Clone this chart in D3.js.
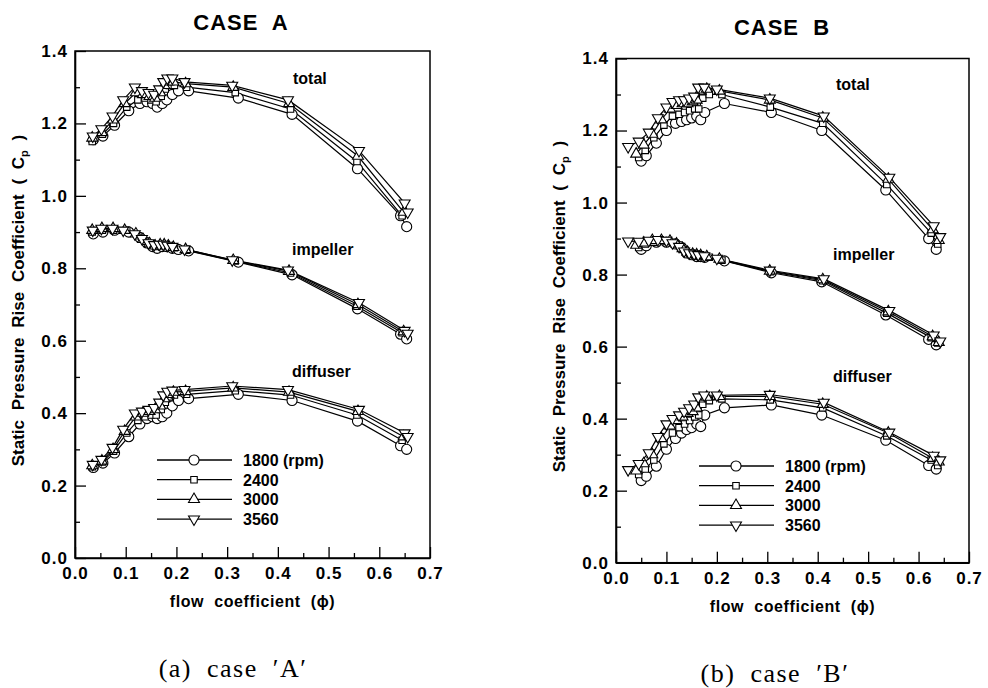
<!DOCTYPE html>
<html>
<head>
<meta charset="utf-8">
<script src="https://cdn.jsdelivr.net/npm/d3@7"></script>
<style>
  html, body { margin: 0; padding: 0; background: #fff; }
  svg text { font-family: "Liberation Sans", Arial, Helvetica, sans-serif; fill: #000; }
</style>
</head>
<body>
<svg id="chart" width="988" height="688"></svg>
<script>
// Speeds shown in the legend
const rpmLabels = ["1800 (rpm)", "2400", "3000", "3560"];
const componentLabels = ["total", "impeller", "diffuser"];
const xTicks = [0.0, 0.1, 0.2, 0.3, 0.4, 0.5, 0.6, 0.7];
const yTicks = [0.0, 0.2, 0.4, 0.6, 0.8, 1.0, 1.2, 1.4];

// ---- Case A : flow coefficient and pressure rise coefficients per speed ----
const aPhi1800 = [0.036,0.055,0.078,0.106,0.128,0.142,0.153,0.162,0.172,0.181,0.192,0.204,0.224,0.322,0.428,0.557,0.642,0.654];
const aTot1800 = [1.155,1.165,1.195,1.235,1.255,1.260,1.255,1.245,1.255,1.265,1.280,1.290,1.290,1.270,1.225,1.075,0.945,0.915];
const aImp1800 = [0.895,0.900,0.905,0.900,0.885,0.870,0.860,0.855,0.860,0.860,0.855,0.852,0.848,0.817,0.782,0.688,0.618,0.605];
const aDif1800 = [0.250,0.262,0.290,0.335,0.370,0.385,0.390,0.385,0.390,0.400,0.420,0.435,0.440,0.452,0.435,0.378,0.310,0.300];

const aPhi2400 = [0.034,0.054,0.076,0.102,0.124,0.138,0.150,0.160,0.170,0.178,0.186,0.196,0.220,0.316,0.425,0.556,0.645];
const aTot2400 = [1.150,1.170,1.200,1.245,1.265,1.270,1.265,1.260,1.275,1.295,1.305,1.305,1.300,1.285,1.240,1.095,0.945];
const aImp2400 = [0.900,0.905,0.905,0.905,0.890,0.875,0.865,0.860,0.862,0.865,0.860,0.857,0.850,0.820,0.787,0.695,0.622];
const aDif2400 = [0.252,0.265,0.295,0.345,0.380,0.390,0.395,0.395,0.410,0.430,0.445,0.450,0.452,0.462,0.450,0.395,0.325];

const aPhi3000 = [0.034,0.053,0.075,0.098,0.120,0.134,0.147,0.158,0.168,0.176,0.184,0.194,0.218,0.312,0.422,0.558,0.648];
const aTot3000 = [1.160,1.175,1.210,1.255,1.285,1.280,1.275,1.270,1.285,1.305,1.315,1.315,1.310,1.300,1.255,1.110,0.955];
const aImp3000 = [0.905,0.910,0.910,0.905,0.895,0.880,0.868,0.862,0.865,0.865,0.862,0.858,0.852,0.822,0.792,0.700,0.625];
const aDif3000 = [0.255,0.268,0.300,0.350,0.390,0.400,0.405,0.410,0.420,0.440,0.452,0.458,0.460,0.470,0.458,0.405,0.335];

const aPhi3560 = [0.035,0.052,0.074,0.095,0.118,0.132,0.145,0.156,0.166,0.174,0.182,0.192,0.216,0.310,0.420,0.560,0.650,0.656];
const aTot3560 = [1.165,1.185,1.220,1.265,1.300,1.290,1.285,1.280,1.295,1.315,1.325,1.325,1.315,1.305,1.265,1.125,0.980,0.955];
const aImp3560 = [0.905,0.910,0.910,0.905,0.895,0.882,0.870,0.865,0.866,0.866,0.863,0.860,0.853,0.823,0.795,0.705,0.628,0.620];
const aDif3560 = [0.258,0.272,0.305,0.355,0.400,0.405,0.410,0.415,0.430,0.450,0.460,0.463,0.465,0.475,0.465,0.410,0.345,0.335];

// ---- Case B ----
const bPhi1800 = [0.050,0.060,0.080,0.100,0.118,0.130,0.140,0.150,0.160,0.168,0.176,0.215,0.308,0.408,0.535,0.620,0.635];
const bTot1800 = [1.115,1.130,1.165,1.200,1.220,1.225,1.230,1.235,1.240,1.230,1.250,1.275,1.250,1.200,1.035,0.900,0.870];
const bImp1800 = [0.870,0.880,0.890,0.890,0.885,0.875,0.860,0.855,0.850,0.850,0.848,0.838,0.805,0.780,0.688,0.620,0.605];
const bDif1800 = [0.228,0.240,0.268,0.315,0.345,0.360,0.370,0.375,0.385,0.378,0.410,0.430,0.438,0.410,0.340,0.270,0.260];

const bPhi2400 = [0.045,0.058,0.075,0.095,0.112,0.125,0.136,0.146,0.156,0.164,0.172,0.185,0.210,0.306,0.410,0.537,0.625,0.638];
const bTot2400 = [1.125,1.145,1.180,1.215,1.240,1.245,1.250,1.255,1.260,1.260,1.290,1.300,1.300,1.265,1.220,1.050,0.915,0.885];
const bImp2400 = [0.875,0.885,0.890,0.892,0.890,0.882,0.868,0.860,0.855,0.852,0.850,0.848,0.840,0.808,0.783,0.693,0.625,0.610];
const bDif2400 = [0.245,0.260,0.285,0.330,0.360,0.375,0.385,0.395,0.405,0.410,0.440,0.450,0.455,0.452,0.430,0.352,0.285,0.270];

const bPhi3000 = [0.040,0.055,0.072,0.090,0.107,0.120,0.132,0.142,0.152,0.160,0.168,0.180,0.205,0.305,0.410,0.540,0.628,0.640];
const bTot3000 = [1.135,1.160,1.190,1.230,1.260,1.270,1.275,1.275,1.280,1.285,1.310,1.315,1.310,1.285,1.235,1.065,0.925,0.895];
const bImp3000 = [0.882,0.888,0.895,0.895,0.893,0.885,0.872,0.862,0.857,0.855,0.853,0.850,0.843,0.810,0.786,0.697,0.628,0.612];
const bDif3000 = [0.255,0.275,0.300,0.345,0.380,0.395,0.405,0.415,0.420,0.430,0.455,0.460,0.462,0.462,0.440,0.360,0.290,0.280];

const bPhi3560 = [0.024,0.045,0.065,0.083,0.100,0.112,0.125,0.135,0.145,0.155,0.163,0.175,0.200,0.305,0.412,0.542,0.630,0.643];
const bTot3560 = [1.155,1.170,1.195,1.235,1.265,1.280,1.285,1.285,1.290,1.295,1.320,1.320,1.315,1.290,1.240,1.070,0.935,0.905];
const bImp3560 = [0.893,0.892,0.895,0.897,0.895,0.888,0.878,0.865,0.860,0.857,0.855,0.852,0.845,0.812,0.788,0.700,0.632,0.615];
const bDif3560 = [0.258,0.275,0.305,0.350,0.385,0.400,0.410,0.420,0.430,0.440,0.460,0.465,0.465,0.467,0.445,0.362,0.298,0.285];

// Assemble series tables for each panel
const caseA = [
  { phi: aPhi1800, curves: [aTot1800, aImp1800, aDif1800] },
  { phi: aPhi2400, curves: [aTot2400, aImp2400, aDif2400] },
  { phi: aPhi3000, curves: [aTot3000, aImp3000, aDif3000] },
  { phi: aPhi3560, curves: [aTot3560, aImp3560, aDif3560] }
];
const caseB = [
  { phi: bPhi1800, curves: [bTot1800, bImp1800, bDif1800] },
  { phi: bPhi2400, curves: [bTot2400, bImp2400, bDif2400] },
  { phi: bPhi3000, curves: [bTot3000, bImp3000, bDif3000] },
  { phi: bPhi3560, curves: [bTot3560, bImp3560, bDif3560] }
];

const svg = d3.select("#chart");

// Marker shapes: circle, square, triangle, inverted triangle
const markerShapes = [
  { type: d3.symbolCircle, size: 80, rot: 0 },
  { type: d3.symbolSquare, size: 42, rot: 0 },
  { type: d3.symbolTriangle, size: 52, rot: 0 },
  { type: d3.symbolTriangle, size: 52, rot: 180 }
];

function drawMarker(g, i, x, y) {
  const m = markerShapes[i];
  g.append("path")
    .attr("d", d3.symbol().type(m.type).size(m.size)())
    .attr("transform", `translate(${x},${y}) rotate(${m.rot})`)
    .attr("fill", "#fff")
    .attr("stroke", "#000")
    .attr("stroke-width", 1.1);
}

function drawPanel(p) {
  const x = d3.scaleLinear().domain([0, 0.7]).range([p.left, p.right]);
  const y = d3.scaleLinear().domain([0, 1.4]).range([p.bottom, p.top]);
  const g = svg.append("g");

  // Frame
  g.append("rect")
    .attr("x", p.left).attr("y", p.top)
    .attr("width", p.right - p.left).attr("height", p.bottom - p.top)
    .attr("fill", "none").attr("stroke", "#000").attr("stroke-width", 1.5);

  // X axis: major ticks pointing inward, minor ticks at the half steps
  const xMinor = d3.range(0.05, 0.7, 0.1);
  g.append("g").attr("transform", `translate(0,${p.bottom})`)
    .call(d3.axisBottom(x).tickValues(xMinor).tickSizeInner(-5).tickSizeOuter(0).tickFormat(""))
    .call(a => a.select(".domain").remove());
  const xa = g.append("g").attr("transform", `translate(0,${p.bottom})`)
    .call(d3.axisBottom(x).tickValues(xTicks).tickSizeInner(-11).tickSizeOuter(0)
      .tickPadding(7).tickFormat(d3.format(".1f")));
  xa.select(".domain").attr("stroke-width", 1.6);
  xa.selectAll("text").style("font-size", "17px").style("font-weight", "bold")
    .style("letter-spacing", "1px").attr("dy", "0.85em");

  // Y axis
  const yMinor = d3.range(0.1, 1.4, 0.2);
  g.append("g").attr("transform", `translate(${p.left},0)`)
    .call(d3.axisLeft(y).tickValues(yMinor).tickSizeInner(-5).tickSizeOuter(0).tickFormat(""))
    .call(a => a.select(".domain").remove());
  const ya = g.append("g").attr("transform", `translate(${p.left},0)`)
    .call(d3.axisLeft(y).tickValues(yTicks).tickSizeInner(-11).tickSizeOuter(0)
      .tickPadding(7).tickFormat(d3.format(".1f")));
  ya.select(".domain").attr("stroke-width", 1.6);
  ya.selectAll("text").style("font-size", "17px").style("font-weight", "bold")
    .style("letter-spacing", "1px");
  g.selectAll(".tick line").attr("stroke-width", 1.3);

  // Curves
  const line = d3.line().x(d => x(d[0])).y(d => y(d[1]));
  const plot = g.append("g");
  for (let c = 0; c < 3; c++) {
    p.series.forEach(s => {
      const pts = s.phi.map((v, k) => [v, s.curves[c][k]]);
      plot.append("path").attr("d", line(pts))
        .attr("fill", "none").attr("stroke", "#000").attr("stroke-width", 1.2);
    });
    p.series.forEach((s, i) => {
      s.phi.forEach((v, k) => drawMarker(plot, i, x(v), y(s.curves[c][k])));
    });
  }

  // Curve names
  p.names.forEach((n, i) => {
    g.append("text").attr("x", n[0]).attr("y", n[1])
      .style("font-size", "16px").style("font-weight", "bold")
      .text(componentLabels[i]);
  });

  // Legend
  rpmLabels.forEach((lab, i) => {
    const ly = p.legY + i * 19.7;
    g.append("line").attr("x1", p.legX).attr("x2", p.legX + 75)
      .attr("y1", ly).attr("y2", ly).attr("stroke", "#000").attr("stroke-width", 1.3);
    drawMarker(g, i, p.legX + 37, ly);
    g.append("text").attr("x", p.legX + 86).attr("y", ly + 6)
      .style("font-size", "16px").style("font-weight", "bold").text(lab);
  });

  // Titles and axis labels
  g.append("text").attr("x", p.titleX).attr("y", p.titleY).attr("text-anchor", "middle")
    .style("font-size", "22px").style("font-weight", "bold").style("letter-spacing", "1px")
    .attr("xml:space", "preserve").text(p.title);

  g.append("text").attr("x", (p.left + p.right) / 2).attr("y", p.bottom + 49)
    .attr("text-anchor", "middle").style("font-size", "16px").style("font-weight", "bold")
    .style("letter-spacing", "0.6px").style("word-spacing", "5px").text("flow coefficient (\u03d5)");

  const yl = g.append("text")
    .attr("transform", `translate(${p.left - 51},${(p.top + p.bottom) / 2 - 4}) rotate(-90)`)
    .attr("text-anchor", "middle").style("font-size", "17px").style("font-weight", "bold")
    .style("word-spacing", "5px");
  yl.append("tspan").text("Static Pressure Rise Coefficient ( C");
  yl.append("tspan").attr("dy", 4).style("font-size", "11px").text("p");
  yl.append("tspan").attr("dy", -4).text(" )");

  g.append("text").attr("x", p.capX).attr("y", p.capY).attr("text-anchor", "middle")
    .style("font-family", "'Liberation Serif', 'Times New Roman', serif")
    .style("font-size", "26px").style("letter-spacing", "1.5px").style("word-spacing", "7px")
    .attr("xml:space", "preserve").text(p.caption);
}

drawPanel({
  left: 75, right: 430, top: 51, bottom: 558,
  series: caseA,
  names: [[293, 84], [292, 255], [292, 377]],
  legX: 157, legY: 460,
  title: "CASE  A", titleX: 241, titleY: 30,
  caption: "(a) case \u2032A\u2032", capX: 233, capY: 677
});

drawPanel({
  left: 616, right: 969, top: 58.5, bottom: 562.7,
  series: caseB,
  names: [[836, 90], [833, 260], [833, 382]],
  legX: 699, legY: 466,
  title: "CASE  B", titleX: 782, titleY: 35,
  caption: "(b) case \u2032B\u2032", capX: 775, capY: 682
});
</script>
</body>
</html>
